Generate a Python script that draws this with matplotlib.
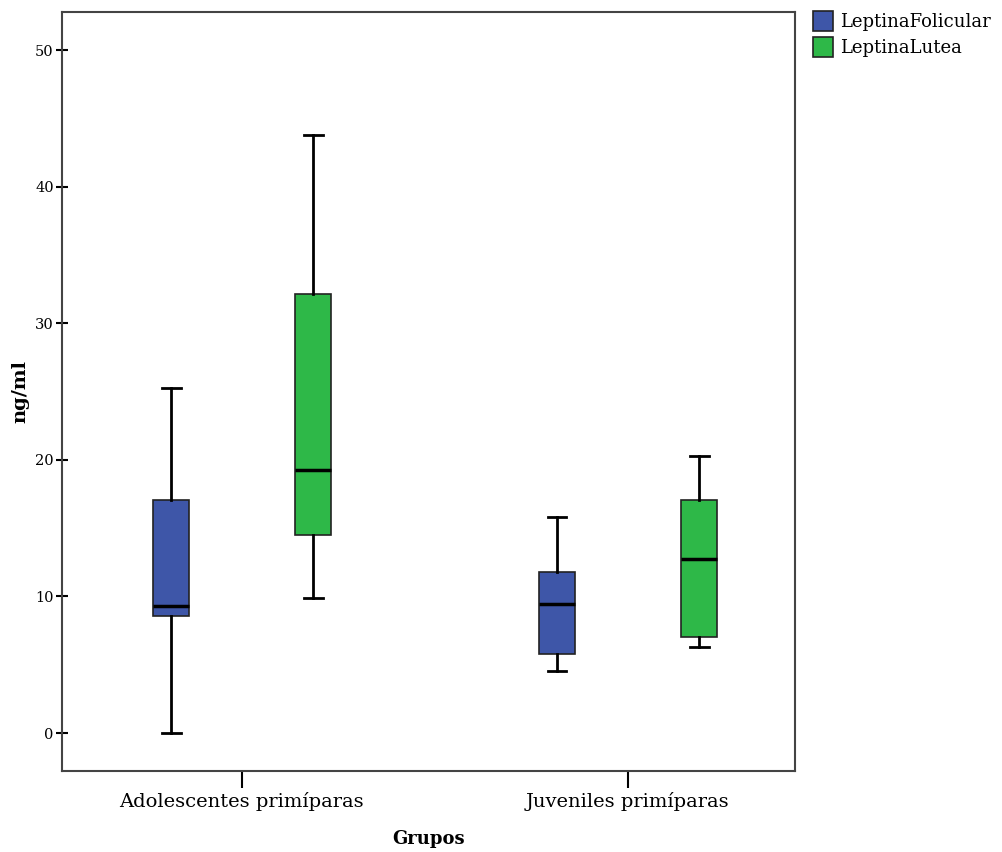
import matplotlib
matplotlib.use('Agg')
import matplotlib.pyplot as plt
from matplotlib.patches import Patch

plt.rcParams['font.family'] = ['DejaVu Serif']

groups = ['Adolescentes primíparas', 'Juveniles primíparas']
series = ['LeptinaFolicular', 'LeptinaLutea']
colors = ['#3E56A8', '#2EB848']

# whislo, q1, med, q3, whishi per group per series
folicular = [[0.0, 8.56, 9.3, 17.06, 25.25],
             [4.55, 5.78, 9.44, 11.8, 15.8]]
lutea = [[9.88, 14.5, 19.25, 32.14, 43.78],
         [6.3, 7.03, 12.74, 17.06, 20.28]]

fig = plt.figure(figsize=(10.02, 8.52), dpi=100)
ax = fig.add_axes([0.0619, 0.0951, 0.7315, 0.8908])

offsets = [-0.183, 0.185]
for si, data in enumerate([folicular, lutea]):
    stats = []
    for vals in data:
        lo, q1, med, q3, hi = vals
        stats.append(dict(whislo=lo, q1=q1, med=med, q3=q3, whishi=hi, fliers=[]))
    pos = [gi + offsets[si] for gi in range(len(groups))]
    ax.bxp(stats, positions=pos, widths=0.093, patch_artist=True, showfliers=False,
           boxprops=dict(facecolor=colors[si], edgecolor='#222222', linewidth=1.2),
           medianprops=dict(color='black', linewidth=2.5),
           whiskerprops=dict(color='black', linewidth=2),
           capprops=dict(color='black', linewidth=2),
           capwidths=0.048)

ax.set_xlim(-0.466, 1.433)
ax.set_ylim(-2.78, 52.8)
ax.set_xticks([0, 1])
ax.set_xticklabels(groups, fontsize=14)
ax.set_yticks([0, 10, 20, 30, 40, 50])
ax.tick_params(axis='y', direction='inout', length=8, width=1.5, labelsize=10.5, pad=2)
ax.tick_params(axis='x', direction='out', length=12, width=1.5, pad=3)
for sp in ax.spines.values():
    sp.set_color('#444444')
    sp.set_linewidth(1.5)

ax.set_ylabel('ng/ml', fontsize=14, fontweight='bold', labelpad=4)
ax.set_xlabel('Grupos', fontsize=13, fontweight='bold', labelpad=14)

handles = [Patch(facecolor=c, edgecolor='#222222', linewidth=1.2) for c in colors]
fig.legend(handles, series, loc='upper left', bbox_to_anchor=(0.8045, 0.995),
           frameon=False, fontsize=13, handlelength=1.1, handleheight=1.25,
           handletextpad=0.4, labelspacing=0.35, borderaxespad=0)

fig.savefig('out.png', dpi=100)
